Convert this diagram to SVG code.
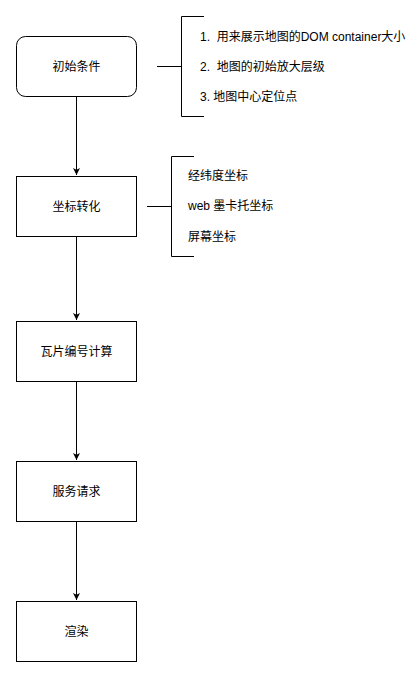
<svg xmlns="http://www.w3.org/2000/svg" width="420" height="678" viewBox="0 0 420 678">
<defs>
<style>
.node{fill:#fff;stroke:#000;stroke-width:1}
.edge{fill:none;stroke:#000;stroke-width:1}
text{font-family:"Liberation Sans","Noto Sans CJK SC",sans-serif;font-size:12px;fill:#000;white-space:pre}
.c{text-anchor:middle}
</style>
<marker id="arr" markerWidth="8" markerHeight="8" refX="7" refY="4" orient="auto" markerUnits="userSpaceOnUse">
<path d="M0,0.5 L7,4 L0,7.5 L1.8,4 Z" fill="#000"/>
</marker>
</defs>
<rect width="420" height="678" fill="#fff"/>
<g id="connectors">
<path class="edge" d="M76.5,97 V175" marker-end="url(#arr)"/>
<path class="edge" d="M76.5,236 V320" marker-end="url(#arr)"/>
<path class="edge" d="M76.5,381 V460" marker-end="url(#arr)"/>
<path class="edge" d="M76.5,521 V600" marker-end="url(#arr)"/>
<path class="edge" d="M157,66.5 H182"/>
<path class="edge" d="M204,16.5 H181.5 V116.5 H204"/>
<path class="edge" d="M147,206.5 H172"/>
<path class="edge" d="M194,156.5 H171.5 V256.5 H194"/>
</g>
<g id="n1">
<rect class="node" x="16.5" y="36.5" width="120" height="60" rx="9" ry="9"/>
<text class="c" x="76.5" y="71">初始条件</text>
</g>
<g id="n2">
<rect class="node" x="16.5" y="176.5" width="120" height="60"/>
<text class="c" x="76.5" y="211">坐标转化</text>
</g>
<g id="n3">
<rect class="node" x="16.5" y="321.5" width="120" height="60"/>
<text class="c" x="76.5" y="356">瓦片编号计算</text>
</g>
<g id="n4">
<rect class="node" x="16.5" y="461.5" width="120" height="60"/>
<text class="c" x="76.5" y="496">服务请求</text>
</g>
<g id="n5">
<rect class="node" x="16.5" y="601.5" width="120" height="60"/>
<text class="c" x="76.5" y="636">渲染</text>
</g>
<g id="notes1">
<text x="200" y="41">1.  用来展示地图的DOM container大小</text>
<text x="200" y="71">2.  地图的初始放大层级</text>
<text x="200" y="101">3. 地图中心定位点</text>
</g>
<g id="notes2">
<text x="188" y="180">经纬度坐标</text>
<text x="188" y="210">web 墨卡托坐标</text>
<text x="188" y="241">屏幕坐标</text>
</g>
</svg>
